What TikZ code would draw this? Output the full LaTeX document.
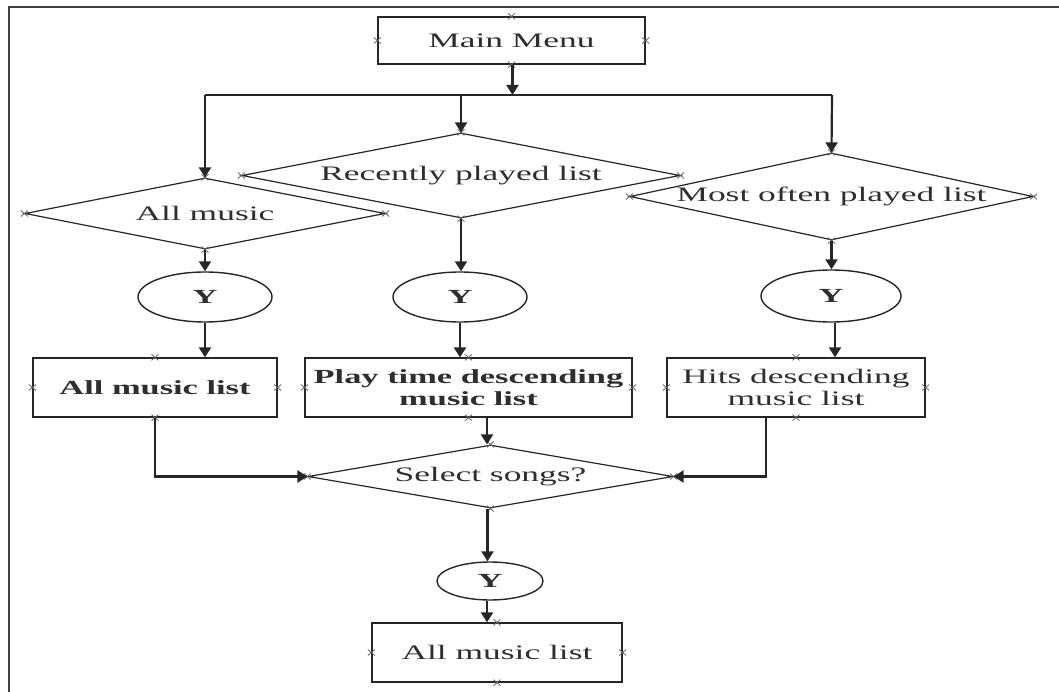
\documentclass[tikz,border=0pt]{standalone}
\usepackage{fontspec}
\setmainfont{Liberation Serif}[FakeStretch=1.72]
\usetikzlibrary{shapes.geometric,arrows.meta}
\begin{document}
\begin{tikzpicture}[x=1pt,y=-1pt,
  txt/.style={font=\fontsize{20.6}{22}\selectfont, text=black!82, align=center, inner sep=0pt},
  box/.style={draw=black!85, line width=1.3pt, rectangle, inner sep=0pt, txt},
  dia/.style={draw=black!85, diamond, inner sep=0pt, line width=1.2pt},
  yell/.style={draw=black!85, ellipse, inner sep=0pt, line width=1.4pt, txt, font=\fontsize{20}{22}\selectfont\bfseries},
  arr/.style={draw=black!85, line width=2.2pt, -{Triangle[width=12pt,length=10pt]}},
  thin/.style={draw=black!85, line width=1.2pt},
  xm/.pic={\draw[black!60, line width=0.8pt] (-3.5,-3)--(3.5,3) (-3.5,3)--(3.5,-3);}
]
\useasboundingbox (0,0) rectangle (1059,692);
% frame
\coordinate (fTL) at (9,7);
\coordinate (fTR) at (1059,7);
\coordinate (fBL) at (9,692);
\draw[black!75, line width=2pt] (fBL) -- (fTL) -- (fTR);

% nodes
\node[box, minimum width=267pt, minimum height=47pt] (mm) at (511.5,40.5) {Main Menu};

\node[dia, minimum width=360pt, minimum height=71pt] (am) at (205,213.5) {};
\node[txt] (amt) at (am) {All music};
\node[dia, minimum width=438pt, minimum height=85pt] (rp) at (461,175.5) {};
\node[txt] (rpt) at (rp) {Recently played list};
\node[dia, minimum width=403pt, minimum height=87pt] (mo) at (831.5,196.5) {};
\node[txt] (mot) at (mo) {Most often played list};

\node[yell, minimum width=134pt, minimum height=50pt] (y1) at (205,297) {Y};
\node[yell, minimum width=134pt, minimum height=50pt] (y2) at (460,297) {Y};
\node[yell, minimum width=140pt, minimum height=52pt] (y3) at (831,296) {Y};

\node[box, minimum width=244pt, minimum height=59pt, font=\fontsize{20}{22}\selectfont\bfseries] (b1) at (155,387.5) {All music list};
\node[box, minimum width=327pt, minimum height=59pt, font=\fontsize{20}{22}\selectfont\bfseries] (b2) at (468.5,387.5) {Play time descending\\music list};
\node[box, minimum width=258pt, minimum height=59pt] (b3) at (796,387.5) {Hits descending\\music list};

\node[dia, minimum width=365pt, minimum height=63pt] (sel) at (490.5,476.5) {};
\node[txt] (selt) at (sel) {Select songs?};

\node[yell, minimum width=106pt, minimum height=38pt] (y4) at (490,581) {Y};
\node[box, minimum width=250pt, minimum height=59pt] (fin) at (497,652.5) {All music list};

% connection marks
\foreach \n in {mm,am,rp,mo,b1,b2,b3,sel,fin}
  \foreach \a in {north,south,east,west}
    \path (\n.\a) pic{xm};

% bus
\coordinate (bL) at (205,95);
\coordinate (bR) at (832,95);
\draw[thin] (bL) -- (bR);
\draw[arr] ([xshift=1pt]mm.south) -- ([xshift=1pt]mm.south |- bL);
\draw[arr] (bL) -- (am.north);
\draw[arr] (rp.north |- bL) -- (rp.north);
\draw[arr] (bR) -- (mo.north);

% diamonds to Y
\draw[arr] (am.south) -- (y1.north);
\draw[arr] (rp.south) -- (rp.south |- y2.north);
\draw[arr] (mo.south) -- (mo.south |- y3.north);

% Y to boxes
\draw[arr] (y1.south) -- (y1.south |- b1.north);
\draw[arr] (y2.south) -- (y2.south |- b2.north);
\draw[arr] ([xshift=4pt]y3.south) -- ([xshift=4pt]y3.south |- b3.north);

% boxes to select
\draw[arr] (b1.south) |- (sel.west);
\draw[arr] ([xshift=18.5pt]b2.south) -- ([xshift=18.5pt]b2.south |- sel.north);
\draw[arr] ([xshift=-30pt]b3.south) |- (sel.east);

% select to Y to final
\draw[arr] ([xshift=-3pt]sel.south) -- ([xshift=-3pt]sel.south |- y4.north);
\draw[arr] ([xshift=-3pt]y4.south) -- ([xshift=-3pt]y4.south |- fin.north);
\end{tikzpicture}
\end{document}
